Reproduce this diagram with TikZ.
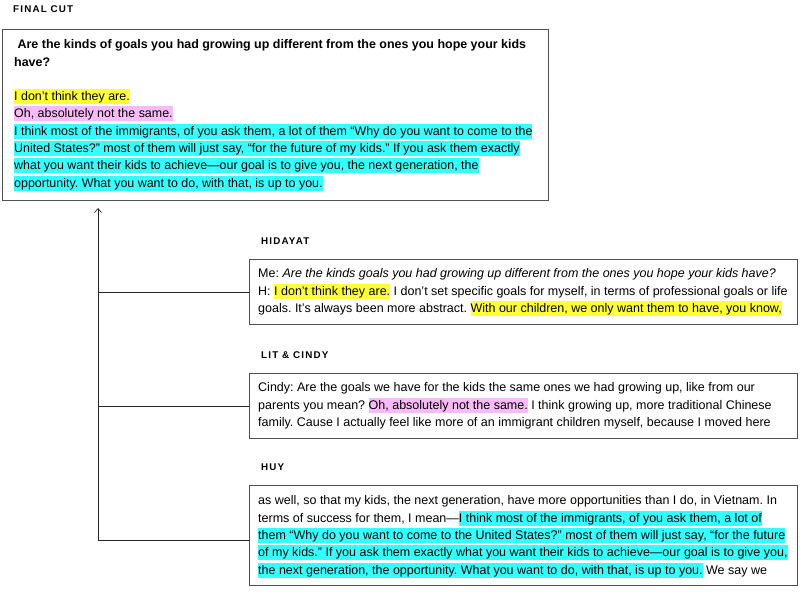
\documentclass[tikz,border=0pt]{standalone}
\usepackage{fontspec}
\setmainfont{Liberation Sans}
\usetikzlibrary{arrows.meta}
\definecolor{hly}{HTML}{FFFF33}
\definecolor{hlp}{HTML}{F9BBF7}
\definecolor{hlc}{HTML}{33FFFF}
\definecolor{boxline}{HTML}{505050}
\newcommand\mystrut{\rule[-3.5pt]{0pt}{15pt}}
\newcommand\hlbox[2]{{\setlength{\fboxsep}{0pt}\colorbox{#1}{\mystrut#2}}}
\frenchspacing
\tikzset{
  panel/.style={draw=boxline, line width=1.1pt, anchor=north west, inner sep=0pt},
  body/.style={anchor=north west, inner sep=0pt, align=left, font=\fontsize{12.5}{17.4}\selectfont\frenchspacing},
  mainbody/.style={body, font=\fontsize{12.45}{17.3}\selectfont\frenchspacing},
  label/.style={anchor=base west, inner sep=0pt, font=\fontsize{9.8}{11}\selectfont\bfseries\addfontfeatures{LetterSpace=12}},
  conn/.style={draw=black!85, line width=0.7pt}
}
\begin{document}
\begin{tikzpicture}[x=1pt,y=-1pt]
\useasboundingbox (0,0) rectangle (800,603);

% final cut
\node[label] (lfc) at (13,12.5) {FINAL CUT};
\node[panel, minimum width=546, minimum height=171] (fc) at (2,29) {};
\node[mainbody] (tfc) at (14,37) {%
\mystrut\textbf{\ Are the kinds of goals you had growing up different from the ones you hope your kids}\\
\mystrut\textbf{have?}\\
\mystrut\\
\hlbox{hly}{I don't think they are.}\\
\hlbox{hlp}{Oh, absolutely not the same.}\\
\hlbox{hlc}{I think most of the immigrants, of you ask them, a lot of them “Why do you want to come to the}\\
\hlbox{hlc}{United States?” most of them will just say, “for the future of my kids.” If you ask them exactly}\\
\hlbox{hlc}{what you want their kids to achieve—our goal is to give you, the next generation, the}\\
\hlbox{hlc}{opportunity. What you want to do, with that, is up to you.}};

% hidayat
\node[label] (lhid) at (261,244.5) {HIDAYAT};
\node[panel, minimum width=548, minimum height=65] (hid) at (249,259) {};
\node[body] (thid) at (258,266) {%
\mystrut Me: \textit{Are the kinds goals you had growing up different from the ones you hope your kids have?}\\
\mystrut H: \hlbox{hly}{I don’t think they are.} I don’t set specific goals for myself, in terms of professional goals or life\\
\mystrut goals. It’s always been more abstract. \hlbox{hly}{With our children, we only want them to have, you know,}};

% lit & cindy
\node[label] (lcin) at (261,358.5) {LIT \& CINDY};
\node[panel, minimum width=548, minimum height=65] (cin) at (249,373) {};
\node[body] (tcin) at (258,380) {%
\mystrut Cindy: Are the goals we have for the kids the same ones we had growing up, like from our\\
\mystrut parents you mean? \hlbox{hlp}{Oh, absolutely not the same.} I think growing up, more traditional Chinese\\
\mystrut family. Cause I actually feel like more of an immigrant children myself, because I moved here};

% huy
\node[label] (lhuy) at (261,470.5) {HUY};
\node[panel, minimum width=548, minimum height=100] (huy) at (249,485) {};
\node[body] (thuy) at (258,493) {%
\mystrut as well, so that my kids, the next generation, have more opportunities than I do, in Vietnam. In\\
\mystrut terms of success for them, I mean—\hlbox{hlc}{I think most of the immigrants, of you ask them, a lot of}\\
\hlbox{hlc}{them “Why do you want to come to the United States?” most of them will just say, “for the future}\\
\hlbox{hlc}{of my kids.” If you ask them exactly what you want their kids to achieve—our goal is to give you,}\\
\hlbox{hlc}{the next generation, the opportunity. What you want to do, with that, is up to you.} We say we};

% connectors
\coordinate (tip) at (98,208);
\draw[conn] (hid.west) -- (hid.west -| tip);
\draw[conn] (cin.west) -- (cin.west -| tip);
\draw[conn, -{Straight Barb[length=4pt,width=7pt]}] ([yshift=-5pt]huy.west) -| (tip);
\end{tikzpicture}
\end{document}
